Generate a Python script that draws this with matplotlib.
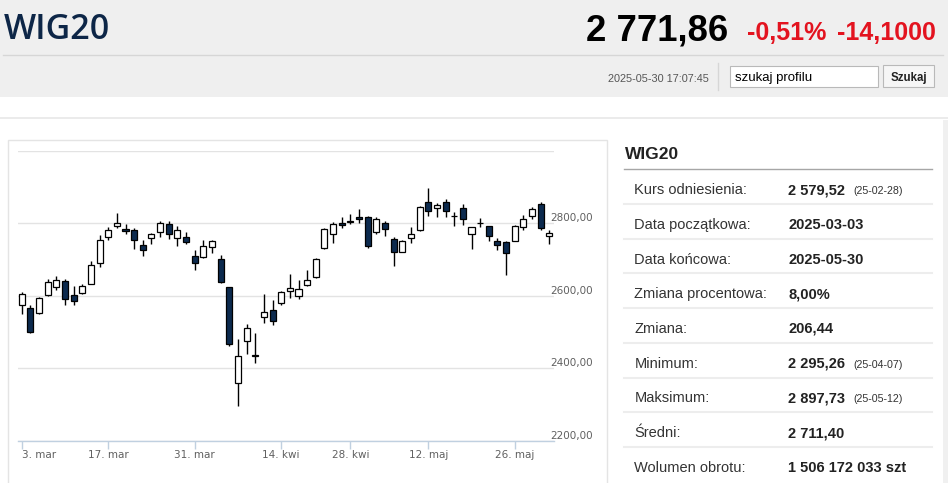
import matplotlib
matplotlib.use('Agg')
import matplotlib.pyplot as plt
from matplotlib.patches import Rectangle

# --- values ---
tick_pos = [0, 10, 20, 30, 38, 47, 57]
tick_labels = ['3. mar', '17. mar', '31. mar', '14. kwi', '28. kwi', '12. maj', '26. maj']
grid_levels = [2200, 2400, 2600, 2800, 3000]
level_labels = ['2200,00', '2400,00', '2600,00', '2800,00']

opens = [2574, 2567, 2552, 2603, 2624, 2641, 2601, 2608, 2633, 2690,
         2762, 2793, 2785, 2782, 2740, 2760, 2776, 2798, 2758, 2763,
         2710, 2707, 2735, 2701, 2623, 2358, 2474, 2433, 2541, 2561,
         2580, 2614, 2598, 2630, 2652, 2733, 2771, 2801, 2804, 2818,
         2818, 2776, 2801, 2757, 2722, 2758, 2780, 2858, 2842, 2858,
         2819, 2841, 2771, 2800, 2792, 2750, 2749, 2752, 2790, 2819,
         2854, 2766]
highs = [2610, 2575, 2596, 2645, 2654, 2645, 2628, 2632, 2695, 2767,
         2789, 2829, 2799, 2787, 2755, 2772, 2807, 2807, 2793, 2777,
         2725, 2753, 2755, 2713, 2625, 2480, 2522, 2498, 2605, 2589,
         2614, 2661, 2642, 2672, 2703, 2787, 2803, 2818, 2826, 2840,
         2820, 2818, 2805, 2762, 2755, 2789, 2848, 2897.73, 2855, 2868,
         2831, 2854, 2790, 2815, 2793, 2760, 2752, 2796, 2822, 2845,
         2859, 2781]
lows = [2550, 2498, 2550, 2598, 2615, 2573, 2573, 2606, 2631, 2679,
        2755, 2787, 2771, 2730, 2709, 2744, 2762, 2757, 2738, 2744,
        2670, 2705, 2718, 2635, 2461, 2295.26, 2439, 2414, 2524, 2520,
        2575, 2595, 2592, 2628, 2650, 2730, 2746, 2786, 2797, 2801,
        2732, 2771, 2766, 2683, 2720, 2746, 2778, 2821, 2818, 2818,
        2792, 2795, 2730, 2790, 2750, 2727, 2658, 2750, 2782, 2812,
        2782, 2742]
closes = [2605, 2501, 2594, 2639, 2644, 2591, 2585, 2628, 2684, 2755,
          2780, 2802, 2778, 2755, 2725, 2769, 2802, 2771, 2782, 2749,
          2690, 2736, 2750, 2637, 2467, 2434, 2511, 2435, 2555, 2531,
          2609, 2621, 2618, 2644, 2701, 2784, 2799, 2796, 2807, 2812,
          2738, 2812, 2784, 2721, 2750, 2769, 2845, 2833, 2851, 2833,
          2820, 2812, 2789, 2801, 2764, 2739, 2718, 2793, 2813, 2839,
          2786, 2771.86]

row_labels = ['Kurs odniesienia:', 'Data początkowa:', 'Data końcowa:',
              'Zmiana procentowa:', 'Zmiana:', 'Minimum:', 'Maksimum:',
              'Średni:', 'Wolumen obrotu:']
row_values = ['2 579,52', '2025-03-03', '2025-05-30', '8,00%', '206,44',
              '2 295,26', '2 897,73', '2 711,40', '1 506 172 033 szt']
row_dates = ['(25-02-28)', '', '', '', '', '(25-04-07)', '(25-05-12)', '', '']

W, H = 948, 483
ARIAL = ['Liberation Sans', 'DejaVu Sans']
RED = '#e3131f'
NAVY = '#0c2a4e'

fig = plt.figure(figsize=(W / 100, H / 100), dpi=100)
fig.patch.set_facecolor('white')

# page background, drawn in pixel coordinates
bg = fig.add_axes([0, 0, 1, 1], zorder=0)
bg.set_xlim(0, W)
bg.set_ylim(H, 0)
bg.axis('off')

bg.add_patch(Rectangle((0, 0), W, 97.3, fc='#efefef', ec='none'))
bg.plot([3, 943], [54.5, 54.5], color='#d6d6d6', lw=1)
bg.plot([718, 718], [63, 90], color='#d6d6d6', lw=1)
bg.add_patch(Rectangle((730, 65.7), 148, 21.6, fc='white', ec='#b9b9b9', lw=0.8))
bg.add_patch(Rectangle((882.7, 65.2), 51.3, 22.2, fc='#f6f6f6', ec='#b9b9b9', lw=0.8))
bg.add_patch(Rectangle((0, 116.7), W, 2.8, fc='#ebebeb', ec='none'))
bg.add_patch(Rectangle((943.5, 119.5), 5, H, fc='#f0f0f0', ec='none'))
bg.add_patch(Rectangle((8.3, 140), 598.4, 400, fc='white', ec='#e4e4e4', lw=1))

# header texts
bg.text(4, 39.3, 'WIG20', family=['Open Sans', 'DejaVu Sans'], fontweight=600,
        fontsize=24.5, color='#0d2647', va='baseline', ha='left')
bg.text(728.5, 40, '2 771,86', family=ARIAL, fontweight='bold', fontsize=26.3,
        color='black', va='baseline', ha='right')
bg.text(746.7, 40, '-0,51%', family=ARIAL, fontweight='bold', fontsize=18,
        color=RED, va='baseline', ha='left')
bg.text(936, 40, '-14,1000', family=ARIAL, fontweight='bold', fontsize=18,
        color=RED, va='baseline', ha='right')
bg.text(708.6, 81.7, '2025-05-30 17:07:45', family=ARIAL, fontsize=7.8,
        color='#555555', va='baseline', ha='right')
bg.text(734.6, 80.5, 'szukaj profilu', family=ARIAL, fontsize=9.5,
        color='black', va='baseline', ha='left')
bg.text(908.5, 80.5, 'Szukaj', family=ARIAL, fontweight='bold', fontsize=8.3,
        color='#222222', va='baseline', ha='center')

# info table on the right
bg.text(625, 159.3, 'WIG20', family=ARIAL, fontweight='bold', fontsize=12.5,
        color='#222222', va='baseline', ha='left')
bg.plot([624, 932], [169.3, 169.3], color='#a6a6a6', lw=1)
row_h = 34.7
for k, (lab, val, dt) in enumerate(zip(row_labels, row_values, row_dates)):
    top = 169.3 + row_h * k
    base = top + 24.8
    bg.text(634.3, base, lab, family=ARIAL, fontsize=10.5, color='#333333',
            va='baseline', ha='left')
    bg.text(788.3, base, val, family=ARIAL, fontweight='bold', fontsize=10.5,
            color='#222222', va='baseline', ha='left')
    if dt:
        bg.text(853.3, base, dt, family=ARIAL, fontsize=7.7, color='#333333',
                va='baseline', ha='left')
    if k < len(row_labels) - 1:
        bg.plot([624, 932], [top + row_h, top + row_h], color='#ededed', lw=1.5)

# candlestick chart
left_px, right_px = 18, 554
top_px, bottom_px = 150.8, 440.6
step = 8.65
x0_px = 21.7
ax = fig.add_axes([left_px / W, 1 - bottom_px / H,
                   (right_px - left_px) / W, (bottom_px - top_px) / H], zorder=1)
ax.patch.set_alpha(0)
ax.set_xlim(-(x0_px - left_px) / step, (right_px - x0_px) / step)
ax.set_ylim(2200, 3000)

idx = list(range(len(opens)))
ax.vlines(idx, lows, highs, color='black', lw=1.0, zorder=2)
for i in idx:
    o, c = opens[i], closes[i]
    body = c - o
    if abs(body) < 1.2:
        body = 1.2 if body >= 0 else -1.2
    fill = 'white' if c >= o else NAVY
    ax.bar(i, body, bottom=o, width=0.7, color=fill, edgecolor='black',
           lw=0.9, zorder=3)

ax.set_yticks(grid_levels)
ax.yaxis.grid(True, color='#e3e3e3', lw=1)
ax.set_axisbelow(True)
ax.tick_params(axis='y', left=False, labelleft=False)
for s in ['top', 'left', 'right']:
    ax.spines[s].set_visible(False)
ax.spines['bottom'].set_color('#c0d0e0')
ax.spines['bottom'].set_linewidth(1)

ax.set_xticks(tick_pos)
ax.set_xticklabels(tick_labels)
ax.tick_params(axis='x', length=5.5, width=1, color='#c0d0e0', pad=1.5,
               labelsize=7.5, labelcolor='#606060')
ax.get_xticklabels()[0].set_horizontalalignment('left')

for lvl, lab in zip(grid_levels, level_labels):
    ax.annotate(lab, xy=(1, lvl), xycoords=('axes fraction', 'data'),
                xytext=(-2.4, 1.4), textcoords='offset points',
                fontsize=7.5, color='#606060', va='baseline', ha='left',
                annotation_clip=False)

fig.savefig('out.png', dpi=100)
